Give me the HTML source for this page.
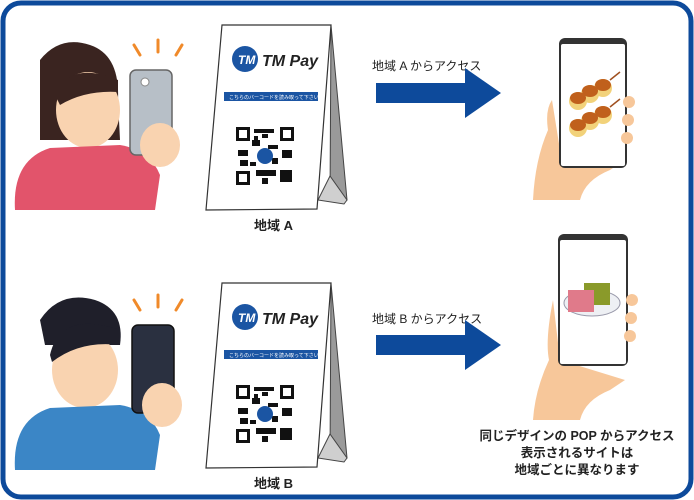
<!DOCTYPE html>
<html><head><meta charset="utf-8"><style>
html,body{margin:0;padding:0;background:#fff;}
svg{display:block}
text{font-family:"Liberation Sans","Noto Sans CJK JP",sans-serif;}
</style></head><body>
<svg width="694" height="500" viewBox="0 0 694 500" xmlns="http://www.w3.org/2000/svg">
<rect x="3" y="3" width="688" height="494" rx="18" fill="#fff" stroke="#0d4a9b" stroke-width="5"/>

<!-- Person A -->
<g>
<path d="M40 60 Q60 35 90 45 Q120 55 118 100 L120 140 L40 140 Z" fill="#3a2420"/>
<ellipse cx="88" cy="110" rx="32" ry="38" fill="#f9d3b0"/>
<path d="M55 95 Q70 60 118 80 L118 92 Q85 90 60 105 Z" fill="#3a2420"/>
<path d="M15 210 Q12 160 50 148 L120 145 Q150 150 160 175 L155 210 Z" fill="#e2546b"/>
<rect x="130" y="70" width="42" height="85" rx="6" fill="#b7bfc7" stroke="#666" stroke-width="1.5"/>
<circle cx="145" cy="82" r="4" fill="#fff" stroke="#888"/>
<ellipse cx="160" cy="145" rx="20" ry="22" fill="#f9d3b0"/>
<path d="M140 55 l-6 -10 M158 52 l0 -12 M176 55 l6 -10" stroke="#f08a2a" stroke-width="3" stroke-linecap="round"/>
</g>
<!-- Person B -->
<g>
<path d="M40 320 Q60 290 95 300 Q125 310 120 345 L45 345 Z" fill="#1f1f2a"/>
<ellipse cx="85" cy="370" rx="33" ry="38" fill="#f9d3b0"/>
<path d="M50 355 Q60 310 120 330 L120 345 Q80 340 52 362 Z" fill="#1f1f2a"/>
<path d="M15 470 Q12 420 50 408 L120 405 Q150 410 160 435 L155 470 Z" fill="#3b86c6"/>
<rect x="132" y="325" width="42" height="88" rx="6" fill="#2a3040" stroke="#111" stroke-width="1.5"/>
<ellipse cx="162" cy="405" rx="20" ry="22" fill="#f9d3b0"/>
<path d="M140 310 l-6 -10 M158 307 l0 -12 M176 310 l6 -10" stroke="#f08a2a" stroke-width="3" stroke-linecap="round"/>
</g>

<!-- POP cards -->
<g id="popA">
<polygon points="331,25 347,200 330,200" fill="#9a9a9a" stroke="#444" stroke-width="1"/>
<polygon points="318,200 330,176 347,200 344,204" fill="#cfcfcf" stroke="#444" stroke-width="1"/>
<polygon points="222,25 331,25 317,209 206,210" fill="#fff" stroke="#333" stroke-width="1.2"/>
<circle cx="245" cy="59" r="13" fill="#1b55a3"/>
<text x="238" y="64" font-size="12" font-weight="bold" font-style="italic" fill="#fff">TM</text>
<text x="262" y="66" font-size="16" font-weight="bold" font-style="italic" fill="#222">TM Pay</text>
<rect x="224" y="92" width="94" height="9" fill="#1b55a3"/>
<text x="229" y="99" font-size="5" fill="#fff">こちらのバーコードを読み取って下さい</text>
<g fill="#111">
<rect x="236" y="127" width="14" height="14"/><rect x="280" y="127" width="14" height="14"/><rect x="236" y="171" width="14" height="14"/>
<rect x="254" y="129" width="20" height="4"/><rect x="252" y="140" width="8" height="6"/><rect x="268" y="145" width="10" height="4"/>
<rect x="238" y="150" width="10" height="6"/><rect x="282" y="150" width="10" height="8"/><rect x="256" y="170" width="20" height="6"/>
<rect x="280" y="170" width="12" height="12"/><rect x="262" y="178" width="6" height="6"/><rect x="240" y="160" width="8" height="6"/>
<rect x="254" y="136" width="4" height="4"/><rect x="262" y="134" width="6" height="4"/><rect x="272" y="158" width="6" height="6"/><rect x="250" y="162" width="6" height="4"/>
</g>
<rect x="239" y="130" width="8" height="8" fill="#fff"/><rect x="283" y="130" width="8" height="8" fill="#fff"/><rect x="239" y="174" width="8" height="8" fill="#fff"/>
<circle cx="265" cy="156" r="8" fill="#1b55a3"/>
</g>
<use href="#popA" transform="translate(0,258)"/>
<text x="254" y="230" font-size="13" font-weight="bold" fill="#222">地域 A</text>
<text x="254" y="488" font-size="13" font-weight="bold" fill="#222">地域 B</text>

<!-- Arrows -->
<text x="372" y="70" font-size="12" fill="#222">地域 A からアクセス</text>
<polygon points="376,83 465,83 465,68 501,93 465,118 465,103 376,103" fill="#0d4a9b"/>
<text x="372" y="323" font-size="12" fill="#222">地域 B からアクセス</text>
<polygon points="376,335 465,335 465,320 501,345 465,370 465,355 376,355" fill="#0d4a9b"/>

<!-- Phone A -->
<path d="M552 100 Q545 110 548 130 Q535 160 533 200 L580 200 Q585 180 610 170 L625 160 L560 150 Z" fill="#f7c79a"/>
<rect x="559" y="38" width="68" height="130" rx="6" fill="#333"/>
<rect x="561" y="44" width="64" height="122" rx="2" fill="#fff"/>
<g><ellipse cx="578" cy="101" rx="9" ry="9" fill="#f2d27a"/><ellipse cx="590" cy="94" rx="9" ry="9" fill="#f2d27a"/><ellipse cx="603" cy="88" rx="9" ry="9" fill="#f2d27a"/>
<ellipse cx="578" cy="128" rx="9" ry="9" fill="#f2d27a"/><ellipse cx="590" cy="121" rx="9" ry="9" fill="#f2d27a"/><ellipse cx="603" cy="115" rx="9" ry="9" fill="#f2d27a"/></g>
<g fill="#c0601c"><ellipse cx="578" cy="98" rx="8" ry="6"/><ellipse cx="590" cy="91" rx="8" ry="6"/><ellipse cx="603" cy="85" rx="8" ry="6"/>
<ellipse cx="578" cy="125" rx="8" ry="6"/><ellipse cx="590" cy="118" rx="8" ry="6"/><ellipse cx="603" cy="112" rx="8" ry="6"/></g>
<path d="M610 80 L620 72 M610 107 L620 99" stroke="#a05020" stroke-width="1.5"/>
<ellipse cx="629" cy="102" rx="6" ry="6" fill="#f7c79a"/><ellipse cx="628" cy="120" rx="6" ry="6" fill="#f7c79a"/><ellipse cx="627" cy="138" rx="6" ry="6" fill="#f7c79a"/>

<!-- Phone B -->
<path d="M553 300 Q545 340 549 360 Q535 390 533 420 L580 420 Q585 400 610 390 L625 380 L560 360 Z" fill="#f7c79a"/>
<rect x="558" y="234" width="70" height="132" rx="6" fill="#333"/>
<rect x="560" y="240" width="66" height="124" rx="2" fill="#fff"/>
<ellipse cx="592" cy="303" rx="28" ry="13" fill="#eef0f4" stroke="#99a" stroke-width="1"/>
<rect x="584" y="283" width="26" height="22" fill="#8a9a2a"/>
<rect x="568" y="290" width="26" height="22" fill="#e07a8a"/>
<ellipse cx="632" cy="300" rx="6" ry="6" fill="#f7c79a"/><ellipse cx="631" cy="318" rx="6" ry="6" fill="#f7c79a"/><ellipse cx="630" cy="336" rx="6" ry="6" fill="#f7c79a"/>

<text x="577" y="440" font-size="12.5" font-weight="bold" fill="#222" text-anchor="middle">同じデザインの POP からアクセス</text>
<text x="577" y="457" font-size="12.5" font-weight="bold" fill="#222" text-anchor="middle">表示されるサイトは</text>
<text x="577" y="474" font-size="12.5" font-weight="bold" fill="#222" text-anchor="middle">地域ごとに異なります</text>
</svg>
</body></html>
